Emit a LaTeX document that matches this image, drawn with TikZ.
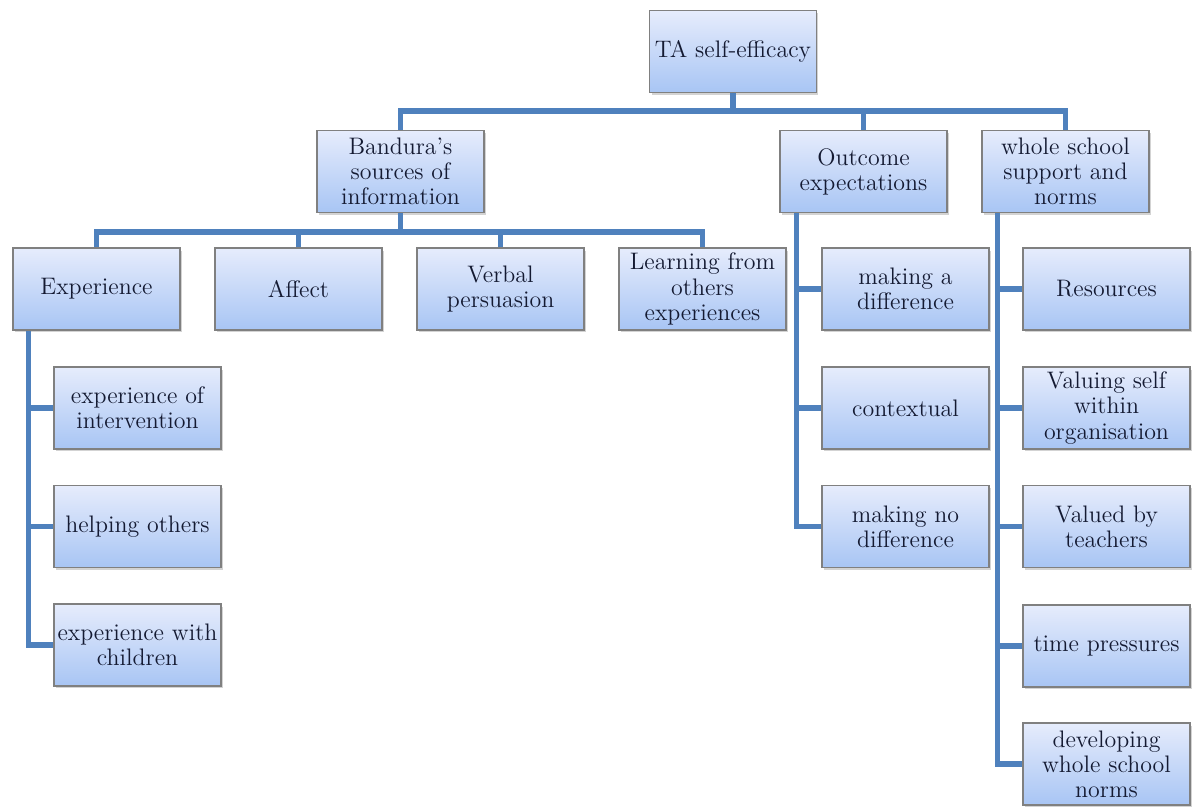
\documentclass[tikz,border=0pt]{standalone}
\usetikzlibrary{shadows,calc}

\definecolor{linkblue}{RGB}{79,129,189}
\definecolor{boxtop}{RGB}{230,236,252}
\definecolor{boxbot}{RGB}{168,197,244}
\definecolor{boxtext}{RGB}{20,26,50}

\tikzset{
  box/.style={draw=black!50, line width=0.6pt, top color=boxtop, bottom color=boxbot,
    drop shadow={shadow xshift=0.04cm, shadow yshift=-0.05cm, opacity=0.35},
    minimum width=3.34cm, minimum height=1.64cm, inner sep=0pt,
    align=center, text=boxtext, font=\fontsize{13.6}{14.3}\selectfont},
  link/.style={draw=linkblue, line width=2.9pt}
}

\begin{document}
\begin{tikzpicture}[x=0.02cm, y=-0.02cm]
        \useasboundingbox (0,0) rectangle (1194,807);

        % Top level
        \node[box] (ta) at (733,51.5) {TA self-efficacy};

        % Second level
        \node[box] (bandura) at (400.5,171.5) {Bandura's\\sources of\\information};
        \node[box] (outcome) at (863.5,171.5) {Outcome\\expectations};
        \node[box] (whole) at (1065.5,171.5) {whole school\\support and\\norms};

        % Bandura's sources
        \node[box] (exper) at (96.5,289) {Experience};
        \node[box] (affect) at (298.5,289) {Affect};
        \node[box] (verbal) at (500.5,289) {Verbal\\persuasion};
        \node[box] (learning) at (702.5,289) {Learning from\\others\\experiences};

        % Experience
        \node[box] (interv) at (137.5,408) {experience of\\intervention};
        \node[box] (helping) at (137.5,526.5) {helping others};
        \node[box] (children) at (137.5,645) {experience with\\children};

        % Outcome expectations
        \node[box] (diff) at (905.5,289) {making a\\difference};
        \node[box] (context) at (905.5,408) {contextual};
        \node[box] (nodiff) at (905.5,526.5) {making no\\difference};

        % Whole school support
        \node[box] (resources) at (1106.5,289) {Resources};
        \node[box] (valuing) at (1106.5,408) {Valuing self\\within\\organisation};
        \node[box] (valued) at (1106.5,526.5) {Valued by\\teachers};
        \node[box] (time) at (1106.5,646) {time pressures};
        \node[box] (norms) at (1106.5,764) {developing\\whole school\\norms};

        % Buses
        \coordinate (bus1) at (733,111);
        \coordinate (bus2) at (400.5,232);
        \draw[link] (ta.south) -- (bus1);
        \draw[link] (bandura.north) |- (bus1) -| (whole.north);
        \draw[link] (outcome.north) -- (outcome.north |- bus1);

        \draw[link] (bandura.south) -- (bus2);
        \draw[link] (exper.north) |- (bus2) -| (learning.north);
        \draw[link] (affect.north) -- (affect.north |- bus2);
        \draw[link] (verbal.north) -- (verbal.north |- bus2);

        % Side spines
        \coordinate (sp1) at ($(exper.south west)+(16,0)$);
        \coordinate (sp2) at ($(outcome.south west)+(17,0)$);
        \coordinate (sp3) at ($(whole.south west)+(16,0)$);
        \draw[link] (sp1) |- (children.west);
        \draw[link] (interv.west) -- (interv.west -| sp1);
        \draw[link] (helping.west) -- (helping.west -| sp1);

        \draw[link] (sp2) |- (nodiff.west);
        \draw[link] (diff.west) -- (diff.west -| sp2);
        \draw[link] (context.west) -- (context.west -| sp2);

        \draw[link] (sp3) |- (norms.west);
        \draw[link] (resources.west) -- (resources.west -| sp3);
        \draw[link] (valuing.west) -- (valuing.west -| sp3);
        \draw[link] (valued.west) -- (valued.west -| sp3);
        \draw[link] (time.west) -- (time.west -| sp3);
\end{tikzpicture}
\end{document}
